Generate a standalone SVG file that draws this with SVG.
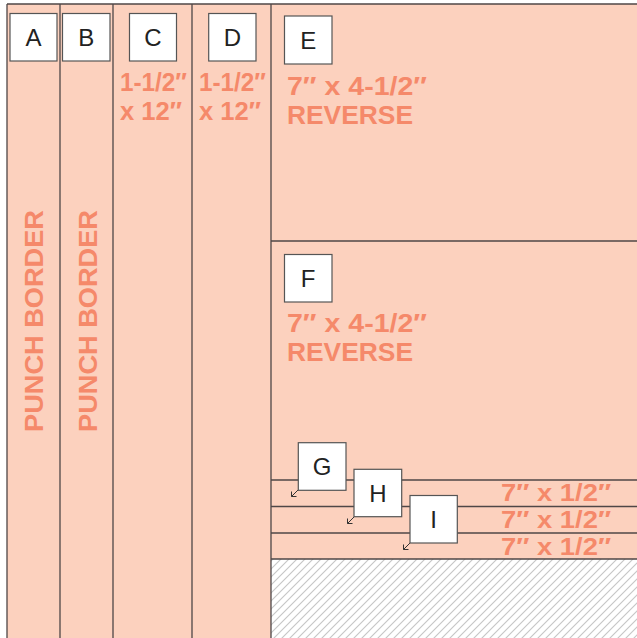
<svg xmlns="http://www.w3.org/2000/svg" width="637" height="638" viewBox="0 0 637 638">
<style>
.bg{fill:#FCD1BE}
.ln{stroke:#4f4747;stroke-width:1.3;fill:none}
.box{fill:#ffffff;stroke:#555;stroke-width:1.2}
.lbl{font-family:"Liberation Sans",Arial,sans-serif;font-size:24px;fill:#222;text-anchor:middle}
.dim{font-family:"Liberation Sans",Arial,sans-serif;font-size:26px;font-weight:bold;fill:#F5896A}
.sm{font-size:24px}
.arr{stroke:#333;stroke-width:1;fill:none}
</style>
<defs>
<pattern id="hatch" patternUnits="userSpaceOnUse" width="8" height="8">
<rect width="8" height="8" fill="#ffffff"/>
<path d="M-2,2 L2,-2 M0,8 L8,0 M6,10 L10,6" stroke="#c6c6c6" stroke-width="1.1"/>
</pattern>
</defs>
<rect x="0" y="0" width="637" height="638" fill="#ffffff"/>
<rect class="bg" x="7" y="4" width="630" height="634"/>
<rect x="271" y="559" width="366" height="79" fill="url(#hatch)"/>
<g id="connectors">
<path class="ln" d="M7,4 H637 M7,4 V638 M60,4 V638 M113,4 V638 M192,4 V638 M271,4 V638"/>
<path class="ln" d="M271,241 H637 M271,480 H637 M271,506.5 H637 M271,533 H637 M271,559 H637"/>
<path class="arr" d="M298,490 L291.5,496.5 M291.5,496.5 h5 M291.5,496.5 v-5"/>
<path class="arr" d="M354,517 L347.5,523.5 M347.5,523.5 h5 M347.5,523.5 v-5"/>
<path class="arr" d="M410,543 L403.5,549.5 M403.5,549.5 h5 M403.5,549.5 v-5"/>
</g>
<g id="A">
<rect class="box" x="10" y="13.5" width="47" height="47.5"/>
<text class="lbl" x="33.5" y="46">A</text>
<text class="dim" transform="translate(43,432) rotate(-90)" textLength="222" lengthAdjust="spacingAndGlyphs">PUNCH BORDER</text>
</g>
<g id="B">
<rect class="box" x="62.5" y="13.5" width="47.5" height="47.5"/>
<text class="lbl" x="86.3" y="46">B</text>
<text class="dim" transform="translate(97,432) rotate(-90)" textLength="222" lengthAdjust="spacingAndGlyphs">PUNCH BORDER</text>
</g>
<g id="C">
<rect class="box" x="129.5" y="13.5" width="47" height="47.5"/>
<text class="lbl" x="153" y="46">C</text>
<text class="dim" x="120" y="91" textLength="67" lengthAdjust="spacingAndGlyphs">1-1/2″</text>
<text class="dim" x="120" y="120" textLength="62" lengthAdjust="spacingAndGlyphs">x 12″</text>
</g>
<g id="D">
<rect class="box" x="208.7" y="13.5" width="47.3" height="47.5"/>
<text class="lbl" x="232.4" y="46">D</text>
<text class="dim" x="199" y="91" textLength="67" lengthAdjust="spacingAndGlyphs">1-1/2″</text>
<text class="dim" x="199" y="120" textLength="62" lengthAdjust="spacingAndGlyphs">x 12″</text>
</g>
<g id="E">
<rect class="box" x="284.5" y="16" width="47.5" height="48"/>
<text class="lbl" x="308.2" y="49">E</text>
<text class="dim" x="287" y="95" textLength="140" lengthAdjust="spacingAndGlyphs">7″ x 4-1/2″</text>
<text class="dim" x="287" y="124" textLength="126" lengthAdjust="spacingAndGlyphs">REVERSE</text>
</g>
<g id="F">
<rect class="box" x="284.5" y="254.5" width="47.5" height="47.5"/>
<text class="lbl" x="308.2" y="287">F</text>
<text class="dim" x="287" y="332" textLength="140" lengthAdjust="spacingAndGlyphs">7″ x 4-1/2″</text>
<text class="dim" x="287" y="361" textLength="126" lengthAdjust="spacingAndGlyphs">REVERSE</text>
</g>
<g id="G">
<rect class="box" x="298.3" y="442.7" width="47.7" height="47.6"/>
<text class="lbl" x="322.2" y="475">G</text>
<text class="dim sm" x="501" y="501" textLength="110" lengthAdjust="spacingAndGlyphs">7″ x 1/2″</text>
</g>
<g id="H">
<rect class="box" x="354" y="469.3" width="47.7" height="47.4"/>
<text class="lbl" x="377.9" y="502">H</text>
<text class="dim sm" x="501" y="528" textLength="110" lengthAdjust="spacingAndGlyphs">7″ x 1/2″</text>
</g>
<g id="I">
<rect class="box" x="410" y="495.5" width="47.3" height="47.5"/>
<text class="lbl" x="433.7" y="528">I</text>
<text class="dim sm" x="501" y="555" textLength="110" lengthAdjust="spacingAndGlyphs">7″ x 1/2″</text>
</g>
</svg>
